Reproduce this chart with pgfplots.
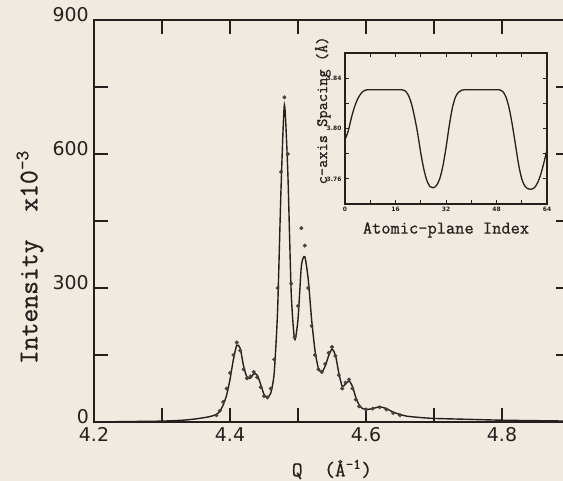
\documentclass[border=0pt]{standalone}
\usepackage{fontspec}
\setsansfont{DejaVu Sans}
\newfontfamily\lblfont[FakeBold=0.8]{Latin Modern Mono}
\usepackage{pgfplots}
\pgfplotsset{compat=1.18}
\definecolor{paper}{RGB}{240,234,224}
\definecolor{ink}{RGB}{35,32,30}

\pgfplotstableread{
q I
4.20 0
4.25 1
4.30 2
4.33 4
4.35 7
4.37 12
4.38 17
4.385 24
4.39 38
4.395 60
4.40 95
4.405 140
4.41 172
4.415 165
4.42 125
4.425 100
4.43 98
4.435 108
4.44 105
4.445 85
4.45 62
4.455 55
4.46 65
4.465 110
4.47 250
4.475 520
4.48 710
4.485 560
4.49 290
4.495 185
4.50 230
4.505 350
4.51 370
4.515 320
4.52 230
4.525 160
4.53 120
4.535 112
4.54 125
4.545 148
4.55 163
4.555 150
4.56 110
4.565 80
4.57 85
4.575 92
4.58 80
4.585 55
4.59 38
4.595 30
4.60 28
4.61 30
4.62 34
4.63 30
4.64 22
4.65 17
4.66 13
4.68 10
4.70 8
4.75 6
4.80 4
4.85 3
4.90 2
}\fitdata

\pgfplotstableread{
q I
4.380 15
4.385 25
4.390 45
4.395 75
4.400 110
4.405 150
4.410 178
4.415 160
4.420 118
4.425 98
4.430 102
4.435 112
4.440 100
4.445 78
4.450 58
4.455 55
4.460 75
4.465 140
4.470 300
4.475 560
4.480 727
4.485 600
4.490 310
4.495 190
4.500 260
4.505 434
4.510 395
4.515 300
4.520 215
4.525 150
4.530 118
4.535 112
4.540 130
4.545 155
4.550 168
4.555 148
4.560 105
4.565 75
4.570 88
4.575 95
4.580 75
4.585 50
4.590 35
4.600 28
4.610 30
4.620 33
4.630 28
4.640 20
4.650 15
}\dotdata

\pgfplotstableread{
n c
0 3.7912
1 3.7978
2 3.8083
3 3.8170
4 3.8234
5 3.8276
6 3.8300
7 3.8308
10 3.8308
13 3.8308
16 3.8308
18 3.8308
19 3.8300
20 3.8268
21 3.8202
22 3.8096
23 3.7964
24 3.7806
25 3.7674
26 3.7582
27 3.7537
28 3.7529
29 3.7547
30 3.7600
31 3.7700
32 3.7846
33 3.8017
34 3.8162
35 3.8250
36 3.8289
37 3.8305
38 3.8308
41 3.8308
44 3.8308
47 3.8308
49 3.8308
50 3.8294
51 3.8250
52 3.8162
53 3.8030
54 3.7872
55 3.7714
56 3.7600
57 3.7542
58 3.7521
59 3.7516
60 3.7529
61 3.7568
62 3.7634
63 3.7727
64 3.7832
}\insetdata

\begin{document}
\begin{tikzpicture}
\fill[paper] (-94bp,-59bp) rectangle (469bp,422bp);
\begin{axis}[
  at={(0,0)}, anchor=south west,
  width=476bp, height=402bp, scale only axis,
  xmin=4.2, xmax=4.9, ymin=0, ymax=900,
  xtick={4.2,4.4,4.6,4.8}, minor xtick={4.3,4.5,4.7},
  ytick={0,300,600,900}, minor ytick={150,450,750},
  major tick length=14bp, minor tick length=14bp,
  tick align=inside,
  tick style={line width=1.2bp, color=ink},
  axis line style={line width=1.5bp, color=ink},
  /pgf/number format/assume math mode=true,
  ticklabel style={font=\sffamily\fontsize{19}{19}\selectfont, color=ink, inner sep=1bp},
  xticklabel style={yshift=-4bp},
  yticklabel style={xshift=-4bp, yshift=5bp},
  xlabel={Q~~(Å\textsuperscript{-1})},
  ylabel={Intensity~~x10\textsuperscript{-3}},
  xlabel style={font=\lblfont\fontsize{21}{21}\selectfont, color=ink,
    at={(axis description cs:0.5,-0.118)}, anchor=center},
  ylabel style={font=\lblfont\fontsize{27}{27}\selectfont, color=ink,
    at={(axis description cs:-0.1345,0.41)}, anchor=center},
]
\addplot[color=ink, line width=1.4bp, smooth, tension=0.4] table[x=q,y=I] {\fitdata};
\addplot[only marks, mark=*, mark size=1.8bp, color=ink!85] table[x=q,y=I] {\dotdata};
\end{axis}
\begin{axis}[
  at={(251bp,218bp)}, anchor=south west,
  width=202bp, height=151bp, scale only axis,
  xmin=0, xmax=64, ymin=3.74, ymax=3.86,
  xtick={0,16,32,48,64}, minor xtick={8,24,40,56},
  ytick={3.76,3.80,3.84}, minor ytick={3.78,3.82},
  major tick length=4bp, minor tick length=4bp,
  tick align=inside,
  tick style={line width=0.9bp, color=ink},
  axis line style={line width=1.1bp, color=ink},
  /pgf/number format/assume math mode=true,
  ticklabel style={font=\sffamily\bfseries\fontsize{6}{6}\selectfont, color=ink},
  yticklabel style={/pgf/number format/fixed, /pgf/number format/precision=2,
    /pgf/number format/fixed zerofill},
  xlabel={Atomic-plane Index},
  ylabel={c-axis Spacing (Å)},
  xlabel style={font=\lblfont\fontsize{18}{18}\selectfont, color=ink,
    at={(axis description cs:0.5,-0.172)}, anchor=center},
  ylabel style={font=\lblfont\fontsize{16}{16}\selectfont, color=ink,
    at={(axis description cs:-0.11,0.62)}, anchor=center},
]
\addplot[color=ink, line width=1.3bp, smooth, tension=0.5] table[x=n,y=c] {\insetdata};
\end{axis}
\pgfresetboundingbox
\path (-94bp,-59bp) rectangle (469bp,422bp);
\end{tikzpicture}
\end{document}
